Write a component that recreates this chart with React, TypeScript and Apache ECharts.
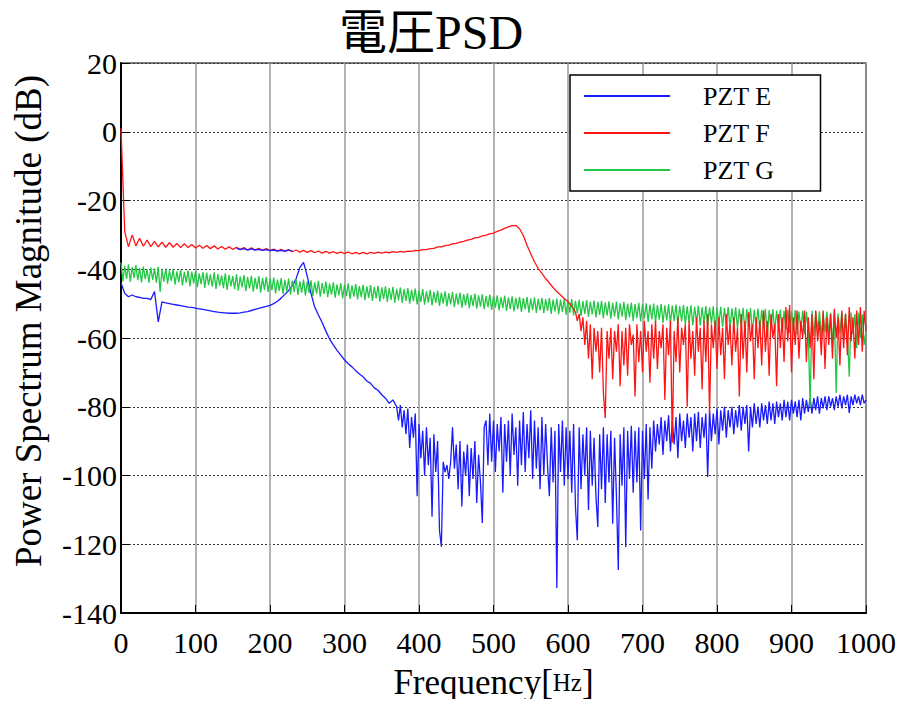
import React, { useEffect, useRef } from "react";
import * as echarts from "echarts";

const TITLE = "電圧PSD";
const X_NAME = "Frequency";
const X_UNIT = "Hz";
const Y_NAME = "Power Spectrum Magnitude (dB)";
const SERIES_NAMES = ["PZT E", "PZT F", "PZT G"];

// PZT E, smooth part: 0..365 Hz every 5 Hz
const PZT_E_LOW_START = 0;
const PZT_E_LOW_STEP = 5;
const PZT_E_LOW = [
  -44, -47, -48, -47.5, -48, -48.2, -48.5, -48.5, -48.8, -46.5,
  -55.3, -49.5, -49.8, -50, -50.2, -50.4, -50.6, -50.8, -51, -51.1,
  -51.3, -51.5, -51.7, -51.9, -52.1, -52.3, -52.5, -52.6, -52.7, -52.8,
  -52.8, -52.8, -52.7, -52.5, -52.3, -52, -51.7, -51.4, -51.1, -50.8,
  -50.5, -50, -49.3, -48.4, -47.3, -46.2, -44.8, -42.8, -39.5, -38,
  -42, -47, -51, -53.3, -55.5, -58, -60.3, -62, -63.6, -65,
  -66.4, -67.5, -68.4, -69.5, -70.5, -71.3, -72.5, -73.2, -74.5, -75.2,
  -76.5, -77.5, -79, -78,
];

// PZT E, noisy part: 370..1000 Hz every 2.5 Hz
const PZT_E_HIGH_START = 370;
const PZT_E_HIGH_STEP = 2.5;
const PZT_E_HIGH = [
  -80, -84, -79.5, -86, -81, -88, -80.5, -92, -83, -89,
  -82, -106, -85, -95, -87, -100, -86, -97, -89, -112,
  -88, -99, -90, -116, -120.7, -96, -99, -97, -101, -96,
  -86, -98, -91, -104, -90, -109, -93, -100, -91, -106,
  -92, -101, -90, -108, -94, -102, -113.8, -86, -84, -97,
  -82, -96, -84, -99, -85, -93, -83, -105, -85, -96,
  -84, -100, -82, -94, -86, -103, -84, -97, -81.5, -99,
  -85, -95, -81, -101, -84, -98, -86, -104, -83, -100,
  -85, -97, -106, -86, -102, -87, -132.7, -85, -99, -84,
  -103, -86, -101, -87, -105, -85, -109, -118.8, -86, -104,
  -88, -100, -86, -110, -87, -103, -89, -106, -115, -88,
  -104, -86, -108, -88, -102, -87, -114, -89, -106, -127.5,
  -88, -103, -86, -120.8, -87, -101, -85.5, -105, -87, -102,
  -86, -116, -87, -101, -85, -107, -86, -98, -84, -93,
  -85, -91, -83, -94, -84, -90, -82.5, -93, -84, -91,
  -83, -95, -82, -90, -84, -92, -82, -89, -83, -93,
  -82, -90, -81.5, -92, -83, -89, -82, -100.4, -81, -90,
  -82, -88, -80.5, -91, -81, -87, -80, -89, -81, -86,
  -80, -88, -81, -86, -79.5, -87, -80, -85, -79.5, -93,
  -80, -86, -79, -85, -80, -86, -79, -84, -79.5, -85,
  -78.5, -84, -79, -85, -78.5, -83, -79, -84, -78, -83,
  -78.5, -84, -78, -82, -78.5, -83, -78, -84, -77.5, -82,
  -78, -81.5, -77.5, -82, -77.5, -81, -77, -82, -77.5, -80.5,
  -77, -81, -77, -80, -77.5, -81, -77, -80, -76.5, -80.5,
  -77, -79.5, -76.5, -81.8, -77, -79.5, -76.5, -79, -77, -79.5,
  -76.5, -79, -78,
];

// PZT E trace drawn over PZT F: 155..230 Hz every 5 Hz
const PZT_E_OVER_START = 155;
const PZT_E_OVER_STEP = 5;
const PZT_E_OVER = [
  -33.9, -34.2, -34, -34.4, -34.1, -34.4, -34.2, -34.5, -34.3, -34.6,
  -34.4, -34.7, -34.5, -34.7, -34.4, -34.8,
];

// PZT F, 0..595 Hz every 5 Hz
const PZT_F_LOW_START = 0;
const PZT_F_LOW_STEP = 5;
const PZT_F_LOW = [
  1, -29, -33.5, -30, -33.2, -31, -33.3, -31.5, -33.4, -31.9,
  -33.5, -32.1, -33.6, -32.3, -33.6, -32.5, -33.7, -32.6, -33.7, -32.8,
  -33.8, -33, -33.9, -33.1, -34, -33.2, -34.1, -33.4, -34.2, -33.5,
  -34.2, -33.6, -34.3, -33.7, -34.4, -33.8, -34.4, -33.9, -34.5, -34,
  -34.6, -34.1, -34.7, -34.2, -34.8, -34.3, -34.9, -34.4, -35, -34.5,
  -35.1, -34.6, -35.2, -34.7, -35.3, -34.8, -35.3, -34.9, -35.4, -35,
  -35.4, -35, -35.5, -35.1, -35.5, -35.1, -35.5, -35.1, -35.4, -35,
  -35.3, -35, -35.2, -34.9, -35.1, -34.8, -35, -34.7, -34.8, -34.5,
  -34.6, -34.3, -34.3, -34, -33.9, -33.5, -33.5, -33.1, -33, -32.6,
  -32.5, -32.1, -31.9, -31.5, -31.3, -30.9, -30.7, -30.3, -30.1, -29.7,
  -29.5, -29, -28.6, -28.1, -27.7, -27.3, -27.3, -28.2, -30.2, -33,
  -35.5, -37.8, -39.8, -41.2, -42.7, -44, -45.3, -46.5, -47.5, -48.5,
];

// PZT F, 600..1000 Hz every 2.5 Hz
const PZT_F_HIGH_START = 600;
const PZT_F_HIGH_STEP = 2.5;
const PZT_F_HIGH = [
  -49.4, -50, -50.8, -51.5, -52.5, -55, -53, -58, -54, -62,
  -55, -66, -56, -72, -57, -64, -58, -70, -57, -76,
  -83.3, -58, -66, -57, -72, -58, -64, -56, -74, -58,
  -68, -57, -71, -56, -62, -59, -77, -56, -67, -58,
  -70, -55, -64, -58, -73, -56, -66, -55, -69, -58,
  -63, -56, -78, -57, -65, -55, -90.5, -58, -67, -54,
  -70, -57, -62, -56, -80, -55, -66, -58, -71, -54,
  -64, -57, -75, -55, -67, -53, -82, -56, -63, -55,
  -69, -54, -65, -57, -72, -53, -62, -56, -68, -54,
  -64, -57, -77, -53, -66, -55, -70, -52.5, -61, -56,
  -72, -54, -63, -55, -68, -52, -64, -55, -71, -53,
  -60, -56, -74, -53, -63, -54, -67, -51, -61, -50.4,
  -70, -54, -62, -52, -66, -55, -60, -52, -67, -54,
  -63, -53, -72, -52, -61, -55, -65, -52, -69, -54,
  -62, -53, -66, -51.5, -60, -54, -68, -52, -63, -53,
  -65, -51, -61, -54, -66, -52, -62, -51, -64, -52,
  -58,
];

// PZT G, 0..1000 Hz every 2.5 Hz
const PZT_G_START = 0;
const PZT_G_STEP = 2.5;
const PZT_G = [
  -38, -43.5, -39, -42.8, -38.6, -43.6, -39.4, -42.5, -38.8, -43.2,
  -39.6, -43.8, -39.2, -42.9, -40, -44, -39.5, -43.1, -39.8, -43.9,
  -39.3, -46.6, -40.1, -43.6, -39.7, -44.2, -40.4, -43.4, -39.9, -44.5,
  -40.6, -43.8, -40.2, -44.7, -40.8, -43.9, -40.3, -45, -40.7, -44.1,
  -40.5, -45.2, -41.2, -44.3, -40.8, -45.4, -41, -44.6, -41.5, -45.1,
  -40.9, -45.7, -41.4, -44.8, -41.8, -45.5, -41.2, -46, -41.6, -45,
  -42, -45.8, -41.5, -46.2, -42.1, -45.3, -41.7, -46.4, -42.3, -45.6,
  -41.9, -46.5, -42.5, -45.8, -42, -46.8, -42.6, -46, -42.2, -46.6,
  -42.8, -46.1, -42.4, -47, -43, -46.3, -42.6, -47.2, -43.1, -46.5,
  -42.7, -47.3, -43.3, -46.6, -42.9, -47.5, -43.5, -46.8, -43, -47.6,
  -43.6, -46.9, -43.2, -47.8, -43.8, -47.1, -43.4, -48, -44, -47.2,
  -43.6, -48.1, -44.2, -47.4, -43.8, -48.3, -44.4, -47.6, -44, -48.5,
  -44.5, -47.8, -44.1, -48.6, -44.7, -48, -44.3, -48.8, -44.9, -48.1,
  -44.5, -49, -45, -48.3, -44.6, -49.2, -45.2, -48.5, -44.8, -49.4,
  -45.3, -48.7, -45, -49.5, -45.5, -48.9, -45.1, -49.7, -45.7, -49,
  -45.3, -49.8, -45.8, -49.2, -45.5, -50, -46, -49.3, -45.6, -50.2,
  -46.2, -49.5, -45.8, -50.3, -46.4, -49.7, -46, -50.5, -46.6, -49.8,
  -46.2, -50.7, -46.8, -50, -46.4, -50.8, -47, -50.2, -46.6, -51,
  -47.1, -50.3, -46.8, -51.2, -47.3, -50.5, -47, -51.3, -47.5, -50.7,
  -47.1, -51.5, -47.6, -50.9, -47.3, -51.6, -47.8, -51, -47.4, -51.8,
  -47.9, -51.2, -47.6, -52, -48.1, -51.3, -47.7, -52.1, -48.2, -51.5,
  -47.9, -52.3, -48.3, -51.6, -48, -52.4, -48.4, -51.7, -48.1, -52.6,
  -48.5, -51.9, -48.2, -52.7, -48.6, -52, -48.3, -52.8, -48.7, -52.1,
  -48.4, -53, -48.8, -52.3, -48.5, -53.1, -48.9, -52.4, -48.6, -53.2,
  -49, -52.6, -48.7, -53.4, -49.2, -52.8, -48.9, -53.6, -49.3, -53,
  -49, -53.8, -49.4, -53.1, -49.1, -54, -49.5, -53.3, -49.2, -54.2,
  -49.6, -53.5, -49.3, -54.4, -49.8, -53.7, -49.4, -54.6, -49.9, -53.8,
  -49.5, -54.8, -50, -54, -49.7, -55, -50.1, -54.2, -49.8, -55.2,
  -50.2, -54.4, -49.9, -55.3, -50.3, -54.6, -50, -55.5, -50.4, -54.7,
  -50.1, -55.6, -50.5, -54.9, -50.2, -55.8, -50.6, -55, -50.3, -56,
  -50.7, -55.2, -50.4, -56.1, -50.8, -55.4, -50.5, -56.3, -50.9, -55.5,
  -50.6, -56.4, -51, -55.7, -50.7, -56.6, -51.1, -55.8, -50.8, -58,
  -51.2, -56, -50.9, -56.8, -51.3, -56.2, -51, -57, -51.4, -56.3,
  -51.1, -57.2, -51.5, -56.5, -51.2, -58.5, -51.6, -56.7, -51.3, -59,
  -51.7, -56.9, -51.4, -57.5, -51.8, -57, -51.5, -60, -51.9, -57.2,
  -51.6, -58, -52, -57.3, -51.7, -58.2, -52.1, -57.5, -51.8, -58.5,
  -52.2, -57.6, -51.9, -59, -52.3, -57.8, -52, -58.8, -52.4, -58,
  -80, -52.1, -59.5, -52.5, -58.2, -52.2, -60, -52.6, -58.4, -52.3,
  -59, -52.7, -62, -52.4, -76, -52.8, -58.6, -52.5, -60.5, -52.9,
  -59, -71.3, -52.6, -58.8, -53, -63, -52.7, -60, -53.1, -62,
  -58,
];

const X_MIN = 0;
const X_MAX = 1000;
const X_STEP = 100;
const Y_MIN = -140;
const Y_MAX = 20;
const Y_STEP = 20;

const COLORS = ["#1a1aff", "#ff1414", "#22c844"];

const SERIF = "'Liberation Serif', 'DejaVu Serif', serif";

function seg(values: number[], start: number, step: number) {
  return values.map((v, i) => [start + i * step, v]);
}

export default function App() {
  const ref = useRef<HTMLDivElement>(null);

  useEffect(() => {
    if (!ref.current) return;
    const chart = echarts.init(ref.current, undefined, { renderer: "svg" });
    const lineStyleOf = (c: string) => ({ color: c, width: 1.3 });
    const dataE = [
      ...seg(PZT_E_LOW, PZT_E_LOW_START, PZT_E_LOW_STEP),
      ...seg(PZT_E_HIGH, PZT_E_HIGH_START, PZT_E_HIGH_STEP),
    ];
    const dataF = [
      ...seg(PZT_F_LOW, PZT_F_LOW_START, PZT_F_LOW_STEP),
      ...seg(PZT_F_HIGH, PZT_F_HIGH_START, PZT_F_HIGH_STEP),
    ];
    const dataG = seg(PZT_G, PZT_G_START, PZT_G_STEP);
    const dataEOver = seg(PZT_E_OVER, PZT_E_OVER_START, PZT_E_OVER_STEP);

    chart.setOption({
      animation: false,
      backgroundColor: "#ffffff",
      title: {
        text: TITLE,
        left: 334,
        top: 3,
        textStyle: {
          fontFamily: "'Liberation Serif', 'Noto Sans CJK JP', serif",
          fontSize: 48,
          fontWeight: "normal",
          color: "#000",
        },
      },
      grid: {
        left: 121,
        right: 43,
        top: 63,
        bottom: 94,
        show: true,
        borderColor: "#000",
        borderWidth: 1.2,
        backgroundColor: "transparent",
      },
      legend: {
        data: SERIES_NAMES.map((n) => ({ name: n, icon: "rect" })),
        orient: "vertical",
        left: 570,
        top: 75,
        padding: [8, 46, 8, 14],
        itemWidth: 86,
        itemHeight: 2,
        itemGap: 11,
        backgroundColor: "#fff",
        borderColor: "#000",
        borderWidth: 1.5,
        borderRadius: 0,
        textStyle: {
          fontFamily: SERIF,
          fontSize: 26,
          color: "#000",
          padding: [0, 0, 0, 28],
        },
      },
      graphic: [
        {
          type: "text",
          x: 28,
          y: 321,
          rotation: Math.PI / 2,
          style: {
            text: Y_NAME,
            fontFamily: SERIF,
            fontSize: 37,
            fill: "#000",
            textAlign: "center",
            textVerticalAlign: "middle",
          },
        },
      ],
      xAxis: {
        type: "value",
        min: X_MIN,
        max: X_MAX,
        interval: X_STEP,
        name: `{a|${X_NAME}[}{b|${X_UNIT}}{a|]}`,
        nameLocation: "middle",
        nameGap: 50,
        nameTextStyle: {
          rich: {
            a: { fontFamily: SERIF, fontSize: 35, color: "#000", lineHeight: 38 },
            b: { fontFamily: SERIF, fontSize: 25, color: "#000", lineHeight: 38 },
          },
        },
        axisLine: { show: true, onZero: false, lineStyle: { color: "#000", width: 2 } },
        axisTick: { show: true, inside: true, length: 8, lineStyle: { color: "#000", width: 1 } },
        axisLabel: {
          fontFamily: SERIF,
          fontSize: 30,
          color: "#000",
          margin: 14,
          formatter: (v: number) => String(v),
        },
        splitLine: { show: true, lineStyle: { color: "#9a9a9a", width: 1.5, type: "solid" } },
      },
      yAxis: {
        type: "value",
        min: Y_MIN,
        max: Y_MAX,
        interval: Y_STEP,
        axisLine: { show: true, onZero: false, lineStyle: { color: "#000", width: 2 } },
        axisTick: { show: true, inside: true, length: 8, lineStyle: { color: "#000", width: 1 } },
        axisLabel: {
          fontFamily: SERIF,
          fontSize: 30,
          color: "#000",
          margin: 4,
          formatter: (v: number) => String(v),
        },
        splitLine: { show: true, lineStyle: { color: "#333", width: 1, type: [2, 2] } },
      },
      series: [
        {
          name: SERIES_NAMES[0],
          type: "line",
          symbol: "none",
          data: dataE,
          lineStyle: lineStyleOf(COLORS[0]),
          itemStyle: { color: COLORS[0] },
          z: 2,
        },
        {
          name: SERIES_NAMES[2],
          type: "line",
          symbol: "none",
          data: dataG,
          lineStyle: lineStyleOf(COLORS[2]),
          itemStyle: { color: COLORS[2] },
          z: 3,
        },
        {
          name: SERIES_NAMES[1],
          type: "line",
          symbol: "none",
          data: dataF,
          lineStyle: lineStyleOf(COLORS[1]),
          itemStyle: { color: COLORS[1] },
          z: 4,
        },
        {
          name: SERIES_NAMES[0],
          type: "line",
          symbol: "none",
          data: dataEOver,
          lineStyle: lineStyleOf(COLORS[0]),
          itemStyle: { color: COLORS[0] },
          z: 5,
        },
      ],
    });
    return () => chart.dispose();
  }, []);

  return <div ref={ref} style={{ width: 909, height: 707, margin: -8 }} />;
}
